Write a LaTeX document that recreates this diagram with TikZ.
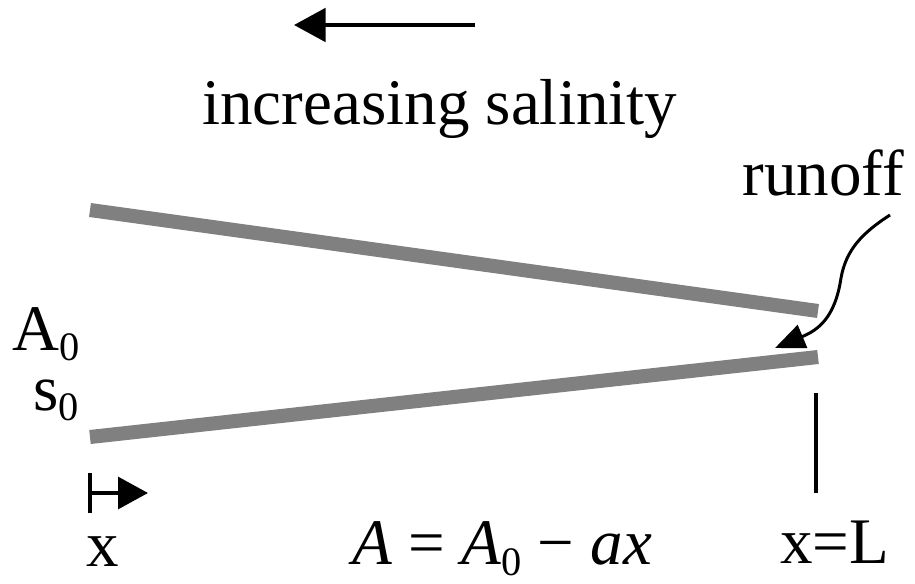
\documentclass[tikz,border=0pt]{standalone}
\usepackage{fontspec}
\setmainfont{Liberation Serif}
\usepackage{tikz}
\usetikzlibrary{arrows.meta, positioning}

\newcommand\labfont{\fontsize{37}{42}\selectfont}
\newcommand\subfont{\fontsize{23}{26}\selectfont}
\newcommand\lowsub[2]{\raisebox{#1}{\subfont #2}}

\tikzset{
  lab/.style={font=\labfont, inner sep=0pt, anchor=base west},
  channel/.style={draw=black!50, line width=8pt},
  thinline/.style={draw=black, line width=2.3pt},
}

\begin{document}
\begin{tikzpicture}[x=0.02cm, y=-0.02cm]

  \useasboundingbox (0,0) rectangle (915,584);

  % Salinity direction
  \coordinate (salR) at (475,25);
  \coordinate (salL) at (294,25);
  \draw[thinline, -{Triangle[length=18pt, width=19pt]}] (salR) -- (salL);
  \node[lab] (salinity) at (202,125) {increasing salinity};

  % Channel walls
  \coordinate (topL) at (90,210);
  \coordinate (topR) at (818,311);
  \coordinate (botL) at (90,437);
  \coordinate (botR) at (818,357);
  \draw[channel] (topL) -- (topR);
  \draw[channel] (botL) -- (botR);

  % Runoff
  \node[lab] (runoff) at (742,195) {runoff};
  \coordinate (runTip) at (775,348);
  \draw[draw=black, line width=1.7pt, -{Triangle[length=17pt, width=14pt]}]
    (890,215) .. controls (862,233) and (846,250) .. (841,278)
    .. controls (835,318) and (818,330) .. (runTip);

  % Mouth labels
  \node[lab] (areaA) at (12,350) {A\lowsub{-5.7pt}{0}};
  \node[lab] (salS) at (33,410) {s\lowsub{-5.7pt}{0}};

  % x axis
  \coordinate (xStart) at (88,493);
  \coordinate (xEnd) at (148,493);
  \draw[thinline, {Bar[width=23pt]}-{Triangle[length=17pt, width=18pt]}] (xStart) -- (xEnd);
  \node[lab, anchor=base] (xlab) at (103,566) {x};

  % Head of estuary
  \coordinate (headT) at (816,393);
  \coordinate (headB) at (816,493);
  \draw[thinline] (headT) -- (headB);
  \node[lab] (xL) at (780,563) {x=L};

  % Area law
  \node[lab] (law) at (352,564) {\textit{A} = \textit{A}\lowsub{-6.5pt}{0} − \textit{ax}};

\end{tikzpicture}
\end{document}
